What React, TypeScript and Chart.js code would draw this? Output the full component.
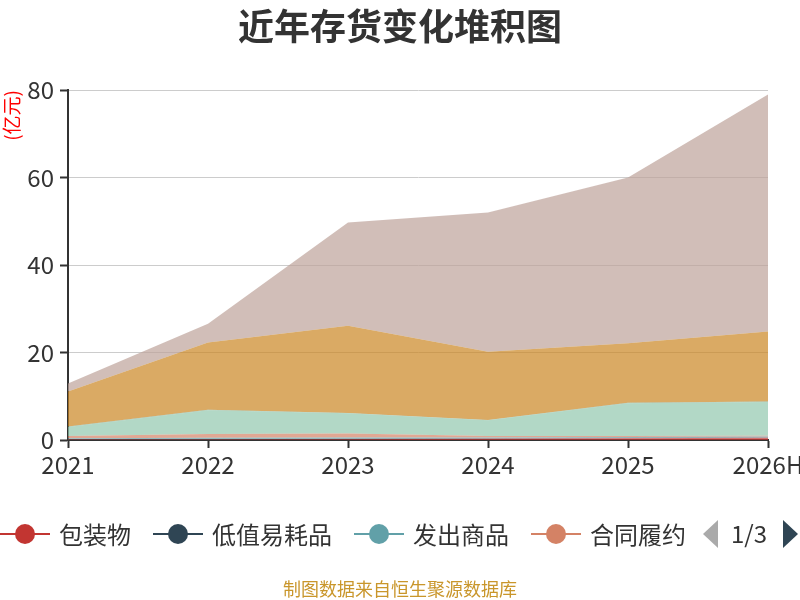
import { useEffect, useRef } from 'react';
import { Chart, registerables } from 'chart.js';

Chart.register(...registerables);

// 年份
const years = ['2021', '2022', '2023', '2024', '2025', '2026H'];

// 各类存货（亿元），按堆积顺序自下而上
const seriesNames = ['包装物', '低值易耗品', '发出商品', '合同履约成本', '库存商品', '委托加工物资', '原材料', '在产品'];
const packaging = [0.1, 0.1, 0.2, 0.3, 0.4, 0.5];
const lowValue = [0.1, 0.1, 0.1, 0.1, 0.1, 0.1];
const shipped = [0.2, 0.3, 0.3, 0.2, 0.2, 0.2];
const contractCost = [0.5, 0.9, 0.9, 0.3, 0.2, 0.2];
const finishedGoods = [2.1, 5.4, 4.6, 3.6, 7.5, 7.7];
const consigned = [0.1, 0.1, 0.1, 0.1, 0.1, 0.1];
const rawMaterials = [8.0, 15.4, 19.9, 15.6, 13.6, 16.0];
const wip = [1.8, 4.3, 23.6, 31.8, 37.9, 54.2];

const seriesValues = [packaging, lowValue, shipped, contractCost, finishedGoods, consigned, rawMaterials, wip];
const yTicks = [0, 20, 40, 60, 80];

const palette = ['#c23531', '#2f4554', '#61a0a8', '#d48265', '#91c7ae', '#749f83', '#ca8622', '#bda29a'];
const FONT = '"Noto Sans CJK SC", "Noto Sans", sans-serif';

function hexA(hex: string, a: number) {
  const n = parseInt(hex.slice(1), 16);
  return `rgba(${(n >> 16) & 255}, ${(n >> 8) & 255}, ${n & 255}, ${a})`;
}

function StackChart() {
  const canvasRef = useRef<HTMLCanvasElement>(null);
  const chartRef = useRef<Chart | null>(null);

  useEffect(() => {
    if (!canvasRef.current) return;
    if (chartRef.current) chartRef.current.destroy();

    chartRef.current = new Chart(canvasRef.current, {
      type: 'line',
      data: {
        labels: years,
        datasets: seriesNames.map((name, i) => ({
          label: name,
          data: seriesValues[i],
          backgroundColor: hexA(palette[i], 0.7),
          borderColor: hexA(palette[i], 0.7),
          borderWidth: 0,
          pointRadius: 0,
          tension: 0,
          fill: i === 0 ? 'origin' : '-1',
        })),
      },
      options: {
        animation: false,
        responsive: false,
        layout: { padding: { top: 90, right: 32, left: 0, bottom: 0 } },
        plugins: {
          legend: { display: false },
          tooltip: { enabled: false },
        },
        scales: {
          x: {
            offset: false,
            grid: { drawOnChartArea: false, drawTicks: true, tickLength: 8, tickColor: '#333', tickWidth: 2 },
            border: { color: '#333', width: 2 },
            ticks: { color: '#333', font: { family: FONT, size: 24 }, padding: 2, maxRotation: 0 },
            afterFit: (scale: any) => {
              scale.height = 160;
              scale.paddingLeft = 0;
              scale.paddingRight = 0;
            },
          },
          y: {
            stacked: true,
            min: 0,
            max: 80,
            afterBuildTicks: (scale: any) => { scale.ticks = yTicks.map((v) => ({ value: v })); },
            grid: { color: '#cccccc', lineWidth: 1, tickLength: 8, tickColor: '#333', tickWidth: 2 },
            border: { color: '#333', width: 2 },
            ticks: { color: '#333', font: { family: FONT, size: 24 }, padding: 6 },
            title: {
              display: true,
              text: '(亿元)',
              align: 'end',
              color: '#ff0000',
              font: { family: FONT, size: 19 },
              padding: { top: 0, bottom: 0 },
            },
            afterFit: (scale: any) => {
              scale.width = 68;
              scale.paddingTop = 0;
              scale.paddingBottom = 0;
            },
          },
        },
      },
    });

    return () => {
      if (chartRef.current) {
        chartRef.current.destroy();
        chartRef.current = null;
      }
    };
  }, []);

  return <canvas ref={canvasRef} width={800} height={600} style={{ position: 'absolute', left: 0, top: 0 }} />;
}

function Legend() {
  return (
    <>
      <div
        style={{
          position: 'absolute', left: 0, top: 517, width: 684, height: 34, overflow: 'hidden',
          display: 'flex', alignItems: 'center', gap: 22, whiteSpace: 'nowrap',
        }}
      >
        {seriesNames.map((name, i) => (
          <div key={name} style={{ display: 'flex', alignItems: 'center', flexShrink: 0 }}>
            <div style={{ position: 'relative', width: 50, height: 22 }}>
              <div style={{ position: 'absolute', left: 0, right: 0, top: 10, height: 2, background: palette[i] }} />
              <div style={{ position: 'absolute', left: 15, top: 1, width: 20, height: 20, borderRadius: 10, background: palette[i] }} />
            </div>
            <span style={{ marginLeft: 9, fontSize: 24, color: '#333', fontFamily: FONT, lineHeight: '34px' }}>{name}</span>
          </div>
        ))}
      </div>
      <div style={{ position: 'absolute', left: 703, top: 520, width: 0, height: 0, borderTop: '14px solid transparent', borderBottom: '14px solid transparent', borderRight: '15px solid #aaa' }} />
      <div style={{ position: 'absolute', left: 731, top: 516, fontSize: 24, color: '#333', fontFamily: FONT, lineHeight: '34px' }}>1/3</div>
      <div style={{ position: 'absolute', left: 783, top: 520, width: 0, height: 0, borderTop: '14px solid transparent', borderBottom: '14px solid transparent', borderLeft: '15px solid #2f4554' }} />
    </>
  );
}

export default function App() {
  return (
    <div style={{ position: 'fixed', left: 0, top: 0, width: 800, height: 600, background: '#fff', overflow: 'hidden' }}>
      <StackChart />
      <div
        style={{
          position: 'absolute', left: 0, top: 1, width: 800, textAlign: 'center',
          fontSize: 36, fontWeight: 'bold', color: '#333', fontFamily: FONT, lineHeight: '46px',
        }}
      >
        近年存货变化堆积图
      </div>
      <Legend />
      <div
        style={{
          position: 'absolute', left: 0, top: 576, width: 800, textAlign: 'center',
          fontSize: 18, color: '#c9962b', fontFamily: FONT, lineHeight: '24px',
        }}
      >
        制图数据来自恒生聚源数据库
      </div>
    </div>
  );
}
